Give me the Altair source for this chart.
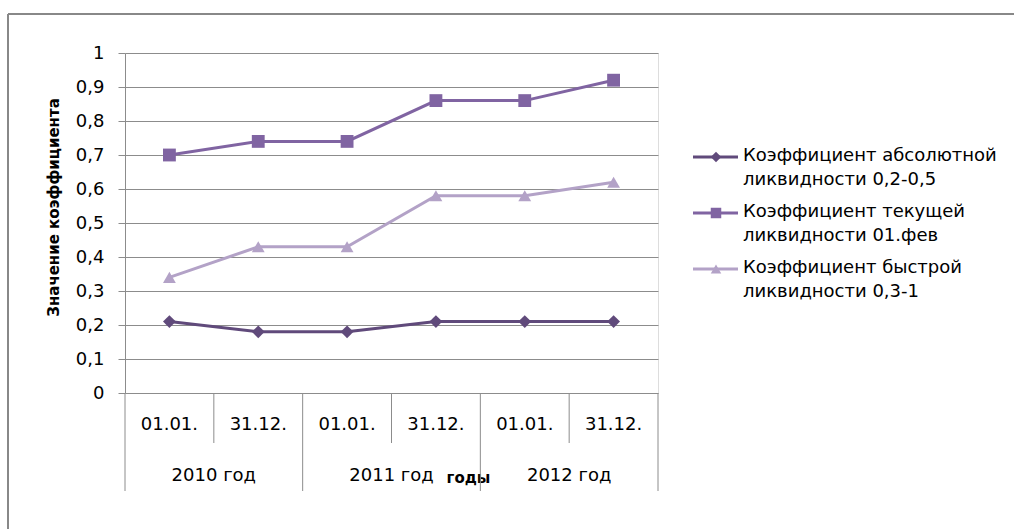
import altair as alt
import pandas as pd

# Reporting dates and the years they belong to
dates = ["01.01.", "31.12.", "01.01.", "31.12.", "01.01.", "31.12."]
years = ["2010 год", "2011 год", "2012 год"]

# Liquidity ratios
series = [
    "Коэффициент абсолютной\nликвидности 0,2-0,5",
    "Коэффициент текущей\nликвидности 01.фев",
    "Коэффициент быстрой\nликвидности 0,3-1",
]
absolute = [0.21, 0.18, 0.18, 0.21, 0.21, 0.21]
current = [0.70, 0.74, 0.74, 0.86, 0.86, 0.92]
quick = [0.34, 0.43, 0.43, 0.58, 0.58, 0.62]
y_ticks = [0, 0.1, 0.2, 0.3, 0.4, 0.5, 0.6, 0.7, 0.8, 0.9, 1]

colors = ["#604A7B", "#8064A2", "#B3A2C7"]
shapes = ["diamond", "square", "triangle-up"]
FONT = "DejaVu Sans"
FS = 18

rows = []
for name, vals in zip(series, [absolute, current, quick]):
    for i, v in enumerate(vals):
        rows.append({"slot": i + 0.5, "series": name, "value": v})
df = pd.DataFrame(rows)

per_year = len(dates) // len(years)
date_df = pd.DataFrame({"slot": [i + 0.5 for i in range(len(dates))], "label": dates})
year_df = pd.DataFrame({"slot": [k * per_year + per_year / 2 for k in range(len(years))], "label": years})
bounds = pd.DataFrame({"b": list(range(len(dates) + 1))})
bounds["kind"] = ["year" if b % per_year == 0 else "date" for b in bounds["b"]]

x_scale = alt.Scale(domain=[0, len(dates)], nice=False, zero=False)
y_scale = alt.Scale(domain=[0, 1], nice=False)
color = alt.Color("series:N", scale=alt.Scale(domain=series, range=colors), legend=None)
shape = alt.Shape("series:N", scale=alt.Scale(domain=series, range=shapes), legend=None)

x_axis = alt.Axis(domain=False, labels=False, ticks=False, grid=False,
                  title="годы", titleFont=FONT, titleFontSize=15, titleFontWeight="bold",
                  titleColor="#000", titleX=343, titleY=77)
y_axis = alt.Axis(values=y_ticks, labelOverlap=False,
                  labelExpr="replace(format(datum.value, '.1~f'), '.', ',')",
                  labelFont=FONT, labelFontSize=FS, labelColor="#000", labelPadding=14,
                  tickSize=7, tickColor="#8c8c8c", domainColor="#8c8c8c",
                  gridColor="#8c8c8c", grid=True,
                  title="Значение коэффициента", titleFont=FONT, titleFontSize=15,
                  titleFontWeight="bold", titleColor="#000", titleAngle=-90,
                  titleX=-72, titleY=154, titleAlign="center", titleBaseline="middle")
x_enc = alt.X("slot:Q", scale=x_scale, axis=x_axis)
y_enc = alt.Y("value:Q", scale=y_scale, axis=y_axis)

base = alt.Chart(df).encode(x=x_enc, y=y_enc, color=color)
lines = base.mark_line(strokeWidth=3).encode(detail="series:N")
points = base.mark_point(filled=True, opacity=1, size=165).encode(shape=shape)

# Category table below the plot
date_rules = alt.Chart(bounds).transform_filter("datum.kind == 'date'").mark_rule(
    color="#8c8c8c", strokeWidth=1
).encode(x=alt.X("b:Q", scale=x_scale, axis=x_axis), y=alt.value(340), y2=alt.value(390))
year_rules = alt.Chart(bounds).transform_filter("datum.kind == 'year'").mark_rule(
    color="#8c8c8c", strokeWidth=1
).encode(x=alt.X("b:Q", scale=x_scale, axis=x_axis), y=alt.value(340), y2=alt.value(438))
date_text = alt.Chart(date_df).mark_text(font=FONT, fontSize=FS, color="#000", baseline="middle").encode(
    x=alt.X("slot:Q", scale=x_scale, axis=x_axis), y=alt.value(372), text="label:N"
)
year_text = alt.Chart(year_df).mark_text(font=FONT, fontSize=FS, color="#000", baseline="middle").encode(
    x=alt.X("slot:Q", scale=x_scale, axis=x_axis), y=alt.value(423), text="label:N"
)

# Outer frame of the chart area
frame_df = pd.DataFrame({"k": [0]})
frame_top = alt.Chart(frame_df).mark_rule(color="#888888", strokeWidth=2).encode(
    x=alt.value(-117), x2=alt.value(900), y=alt.value(-39)
)
frame_left = alt.Chart(frame_df).mark_rule(color="#888888", strokeWidth=2).encode(
    x=alt.value(-117), y=alt.value(-39), y2=alt.value(500)
)

main = alt.layer(frame_top, frame_left, date_rules, year_rules, date_text, year_text, lines, points)

# Legend drawn as marks
leg_df = pd.DataFrame({"series": series})
leg_y = alt.Y("series:N", scale=alt.Scale(type="point", domain=series, range=[104, 216], padding=0), axis=None)
leg_rule = alt.Chart(leg_df).mark_rule(strokeWidth=3).encode(
    x=alt.value(568), x2=alt.value(613), y=leg_y, color=color
)
leg_point = alt.Chart(leg_df).mark_point(filled=True, opacity=1, size=110).encode(
    x=alt.value(591), y=leg_y, color=color, shape=shape
)
leg_text = alt.Chart(leg_df).mark_text(
    font=FONT, fontSize=FS, color="#000", align="left", baseline="top",
    lineBreak="\n", lineHeight=24, dy=-10
).encode(x=alt.value(618), y=leg_y, text="series:N")
legend = alt.layer(leg_rule, leg_point, leg_text)

chart = alt.layer(main, legend).resolve_scale(y="independent").properties(
    width=533, height=340,
    padding={"left": 125, "top": 53, "right": 356, "bottom": 136},
    autosize=alt.AutoSizeParams(type="none"),
).configure_view(stroke=None).configure(background="white").configure_axisY(
    labelOverlap=False, labelFontSize=FS, labelFont=FONT
)

chart.save("out.html", embed_options={"renderer": "svg", "actions": False})
